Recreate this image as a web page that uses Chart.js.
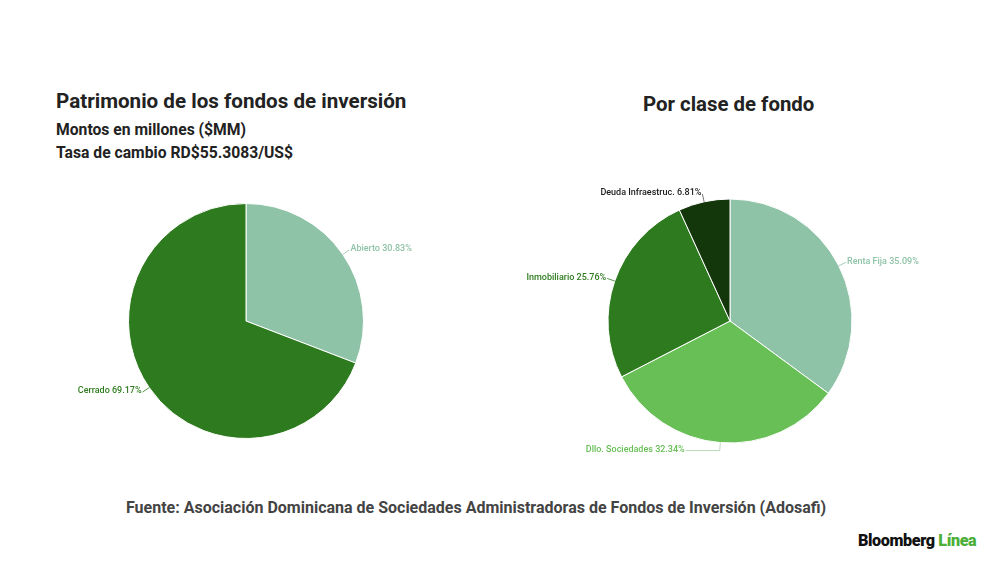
<!DOCTYPE html>
<html>
<head>
<meta charset="utf-8">
<script src="https://cdn.jsdelivr.net/npm/chart.js@4.4.1/dist/chart.umd.min.js"></script>
<style>
  html, body { margin: 0; padding: 0; background: #fff; }
  body { width: 1000px; height: 562px; position: relative; overflow: hidden; font-family: Roboto, "Noto Sans", sans-serif; color: #222; }
  .t { position: absolute; white-space: nowrap; font-weight: 700; }
  .box { position: absolute; width: 560px; height: 300px; }
</style>
</head>
<body>
<div class="t" style="left:56px; top:89px; font-size:20.6px;">Patrimonio de los fondos de inversión</div>
<div class="t" style="left:56px; top:120px; font-size:15.7px;">Montos en millones ($MM)</div>
<div class="t" style="left:56px; top:143px; font-size:15.7px;">Tasa de cambio RD$55.3083/US$</div>
<div class="t" style="left:643px; top:92px; font-size:20.4px;">Por clase de fondo</div>

<div class="box" style="left:-34px; top:171px;"><canvas id="pieTipo"></canvas></div>
<div class="box" style="left:450px; top:171px;"><canvas id="pieClase"></canvas></div>

<div class="t" style="left:126px; top:498px; font-size:16px; color:#444;">Fuente: Asociación Dominicana de Sociedades Administradoras de Fondos de Inversión (Adosafi)</div>
<div class="t" style="left:858px; top:531px; font-size:16.2px; font-weight:900; letter-spacing:-0.4px;"><span style="color:#111;">Bloomberg</span> <span style="color:#4caf3a;">Línea</span></div>

<script>
// datos: tipo de fondo
const tipoLabels = ["Abierto", "Cerrado"];
const tipoValues = [30.83, 69.17];

// datos: clase de fondo
const claseLabels = ["Renta Fija", "Dllo. Sociedades", "Inmobiliario", "Deuda Infraestruc."];
const claseValues = [35.09, 32.34, 25.76, 6.81];

// etiquetas con linea guia, estilo Google Sheets
const sliceLabels = {
  id: "sliceLabels",
  afterDatasetsDraw(chart, args, opts) {
    const ctx = chart.ctx;
    const ds = chart.data.datasets[0];
    const total = ds.data.reduce((a, b) => a + b, 0);
    chart.getDatasetMeta(0).data.forEach((arc, i) => {
      const p = arc.getProps(["x", "y", "startAngle", "endAngle", "outerRadius"], true);
      const mid = (p.startAngle + p.endAngle) / 2;
      const cos = Math.cos(mid), sin = Math.sin(mid);
      const x1 = p.x + cos * p.outerRadius, y1 = p.y + sin * p.outerRadius;
      const x2 = p.x + cos * (p.outerRadius + 8), y2 = p.y + sin * (p.outerRadius + 8);
      const shift = (opts.shift && opts.shift[i]) || 0;
      const x3 = x2 + shift;
      const color = (opts.textColors && opts.textColors[i]) || ds.backgroundColor[i];
      const left = shift !== 0 ? shift < 0 : cos < 0;

      ctx.save();
      ctx.strokeStyle = (opts.lineColors && opts.lineColors[i]) || color;
      ctx.lineWidth = 0.8;
      ctx.beginPath();
      ctx.moveTo(x1, y1);
      ctx.lineTo(x2, y2);
      if (shift) ctx.lineTo(x3, y2);
      ctx.stroke();

      ctx.fillStyle = color;
      ctx.font = "500 9px Roboto";
      ctx.textBaseline = "middle";
      ctx.textAlign = left ? "right" : "left";
      const pct = (ds.data[i] / total * 100).toFixed(2);
      ctx.fillText(chart.data.labels[i] + " " + pct + "%", x3 + (left ? -1 : 1), y2 - 1);
      ctx.restore();
    });
  }
};

function makePie(id, labels, values, colors, pad, labelOpts) {
  return new Chart(document.getElementById(id), {
    type: "pie",
    data: {
      labels: labels,
      datasets: [{
        data: values,
        backgroundColor: colors,
        borderColor: "#ffffff",
        borderWidth: 1
      }]
    },
    options: {
      responsive: true,
      maintainAspectRatio: false,
      animation: false,
      layout: { padding: { top: pad, bottom: pad } },
      plugins: {
        legend: { display: false },
        tooltip: { enabled: false },
        sliceLabels: labelOpts
      }
    },
    plugins: [sliceLabels]
  });
}

makePie("pieTipo", tipoLabels, tipoValues, ["#8fc3a7", "#2e7b1f"], 32, {});
makePie("pieClase", claseLabels, claseValues, ["#8fc3a7", "#67bf55", "#2e7b1f", "#13370b"], 27.5, {
  shift: [0, -34, 0, 0],
  textColors: ["#8fc3a7", "#67bf55", "#2e7b1f", "#1b1b1b"],
  lineColors: ["#8fc3a7", "#a9cfa9", "#2e7b1f", "#555555"]
});
</script>
</body>
</html>
